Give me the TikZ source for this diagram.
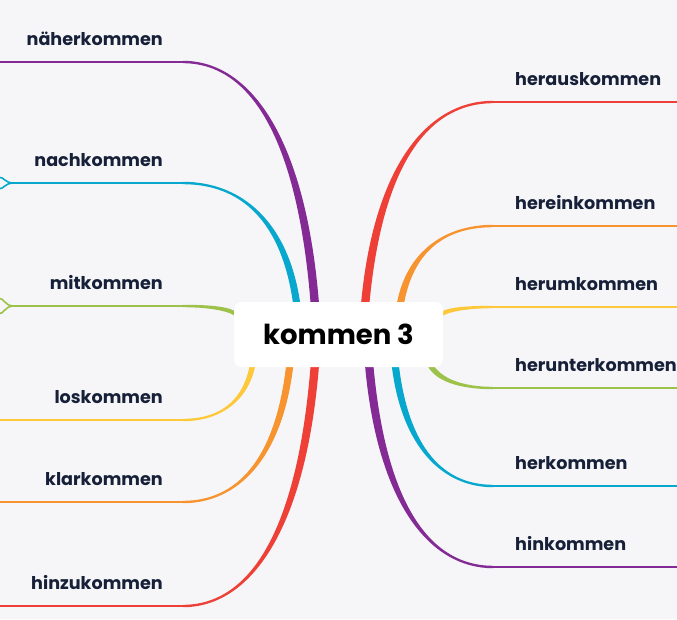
\documentclass[tikz,border=0pt]{standalone}
\usepackage{fontspec}
\setmainfont{Poppins}
\usetikzlibrary{calc}

\definecolor{bgc}{RGB}{246,246,248}
\definecolor{ink}{RGB}{22,32,56}
\definecolor{cpurple}{RGB}{132,42,148}
\definecolor{ccyan}{RGB}{8,168,206}
\definecolor{cgreen}{RGB}{157,194,74}
\definecolor{cyellow}{RGB}{253,200,58}
\definecolor{corange}{RGB}{247,148,47}
\definecolor{cred}{RGB}{238,64,54}

\begin{document}
\begin{tikzpicture}[x=1pt,y=-1pt,
	leaf/.style={text=ink,font=\fontsize{17.6}{20}\selectfont\bfseries,inner sep=0pt},
	rootbox/.style={fill=white,rounded corners=8pt,minimum width=209pt,minimum height=65pt,
		inner sep=0pt,font=\fontsize{27.5}{32}\selectfont\bfseries},
	hline/.style={line width=2.4pt},
	fork/.style={line width=1.6pt}]
	% ---- Canvas ----
	\useasboundingbox (0,0) rectangle (677,619);
	\fill[bgc] (0,0) rectangle (677,619);
	
	% ---- Left branches: name/label/colour/line y/end x/P x/P y/offset ----
	\foreach \n/\lab/\col/\y/\ex/\px/\py/\ox/\oy in {
		naeher/näherkommen/cpurple/62/0/315/306/4.2/0,
		nach/nachkommen/ccyan/183/14/297/306/3.6/0,
		mit/mitkommen/cgreen/306/14/238/316/0/-2.4,
		los/loskommen/cyellow/420/0/253/363/-2.8/0,
		klar/klarkommen/corange/502/0/290/363/-3.6/0,
		hinzu/hinzukommen/cred/606/0/315/363/-4.2/0} {
		\coordinate (q\n) at (183,\y);
		\coordinate (e\n) at (\ex,\y);
		\coordinate (p\n) at (\px,\py);
		\node[leaf,anchor=base east] (l\n) at (163,\y-17) {\lab};
		% control points
		\coordinate (c1\n) at ($(q\n)!0.5!(q\n -| p\n)$);
		\coordinate (a\n) at ($(p\n)!0.1!(q\n)$);
		\coordinate (b\n) at ($(p\n)!0.7!(q\n)$);
		\coordinate (c2\n) at (a\n |- b\n);
		% tapered curve + flat line
		\fill[\col] ($(p\n)+(\ox,\oy)$) .. controls ($(c2\n)+(\ox,\oy)$) and ($(c1\n)+(0,-1.2)$) .. ($(q\n)+(0,-1.2)$)
			-- ($(q\n)+(0,1.2)$) .. controls ($(c1\n)+(0,1.2)$) and ($(c2\n)-(\ox,\oy)$) .. ($(p\n)-(\ox,\oy)$) -- cycle;
		\draw[hline,\col] (q\n) -- (e\n);
	}
	
	% ---- Right branches ----
	\foreach \n/\lab/\col/\y/\px/\py/\ox/\oy in {
		heraus/herauskommen/cred/102/365/306/-4.2/0,
		herein/hereinkommen/corange/226/400/306/-3.6/0,
		herum/herumkommen/cyellow/307/439/316/0/-2.4,
		herunter/herunterkommen/cgreen/388/428/360/2/-2,
		her/herkommen/ccyan/486/395/363/3.6/0,
		hin/hinkommen/cpurple/567/369/363/4.2/0} {
		\coordinate (q\n) at (493,\y);
		\coordinate (e\n) at (677,\y);
		\coordinate (p\n) at (\px,\py);
		\node[leaf,anchor=base west] (l\n) at (515,\y-17) {\lab};
		\coordinate (c1\n) at ($(q\n)!0.5!(q\n -| p\n)$);
		\coordinate (a\n) at ($(p\n)!0.1!(q\n)$);
		\coordinate (b\n) at ($(p\n)!0.7!(q\n)$);
		\coordinate (c2\n) at (a\n |- b\n);
		\fill[\col] ($(p\n)+(\ox,\oy)$) .. controls ($(c2\n)+(\ox,\oy)$) and ($(c1\n)+(0,-1.2)$) .. ($(q\n)+(0,-1.2)$)
			-- ($(q\n)+(0,1.2)$) .. controls ($(c1\n)+(0,1.2)$) and ($(c2\n)-(\ox,\oy)$) .. ($(p\n)-(\ox,\oy)$) -- cycle;
		\draw[hline,\col] (q\n) -- (e\n);
	}
	
	% ---- Stubs running off the left edge ----
	\coordinate (unach) at (-2,177);
	\coordinate (dnach) at (-2,189);
	\draw[fork,ccyan] (enach) .. controls (4,183) and (5,177) .. (unach);
	\draw[fork,ccyan] (enach) .. controls (4,183) and (5,189) .. (dnach);
	\coordinate (umit) at (-2,298);
	\coordinate (dmit) at (-2,314);
	\draw[fork,cgreen] (emit) .. controls (4,306) and (5,298) .. (umit);
	\draw[fork,cgreen] (emit) .. controls (4,306) and (5,314) .. (dmit);
	
	% ---- Centre ----
	\node[rootbox] (root) at (338.5,334.5) {kommen 3};
	
\end{tikzpicture}
\end{document}
